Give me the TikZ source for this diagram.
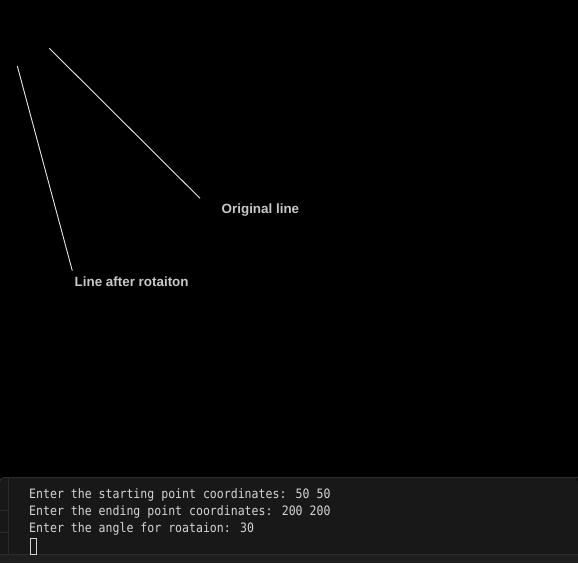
\documentclass[tikz,border=0pt]{standalone}
\usepackage{graphicx}
\usepackage{fontspec}
\setmainfont{Liberation Sans}
\newfontfamily\termfont{DejaVu Sans Mono}
\definecolor{termbg}{HTML}{181818}
\definecolor{termbelow}{HTML}{1F1F1F}
\definecolor{termedge}{HTML}{2B2B2B}
\definecolor{labelgray}{HTML}{C8C8C8}
\definecolor{termtext}{HTML}{D4D4D4}
\definecolor{linegray}{HTML}{E6E6E6}
\newcommand{\tallterm}[1]{\scalebox{1}[1.12]{#1}}
\tikzset{
  gline/.style={draw=linegray, line width=0.9pt},
  glabel/.style={anchor=base west, inner sep=0pt, text=labelgray, font=\fontsize{13.4}{15}\selectfont\bfseries},
  termline/.style={anchor=base west, inner sep=0pt, text=termtext, font=\termfont\fontsize{11.55}{14}\selectfont},
  edge/.style={draw=termedge, line width=1pt}
}
\begin{document}
\begin{tikzpicture}[x=1pt,y=-1pt]
\useasboundingbox (0,0) rectangle (578,563);
\fill[black] (0,0) rectangle (578,563);
% terminal panel
\fill[termbelow] (0,554) rectangle (578,563);
\fill[termbg, rounded corners=4pt] (0,554) -- (0,477.5) -- (578,477.5) [sharp corners] -- (578,554) -- cycle;
\draw[edge, rounded corners=4pt] (0,481) -- (0,477.5) -- (578,477.5);
\draw[edge] (0,554.3) -- (578,554.3);
\draw[edge] (8,478) -- (8,554);
\draw[edge] (0,510) -- (8,510);
\draw[edge] (0,532) -- (8,532);
% graphics lines
\coordinate (o1) at (49.3,48.3);
\coordinate (o2) at (200,198.3);
\coordinate (r1) at (17.3,66);
\coordinate (r2) at (72.3,270.7);
\draw[gline] (o1) -- (o2);
\draw[gline] (r1) -- (r2);
\node[glabel] (orig) at (221.5,213.3) {Original line};
\node[glabel] (rot) at (74.5,286.7) {Line after rotaiton};
% terminal text
\node[termline] (t1) at (29,498.5) {\tallterm{Enter the starting point coordinates: 50 50}};
\node[termline] (t2) at (29,515.5) {\tallterm{Enter the ending point coordinates: 200 200}};
\node[termline] (t3) at (29,532.5) {\tallterm{Enter the angle for roataion: 30}};
\node[draw=termtext, line width=1pt, minimum width=6pt, minimum height=16pt, inner sep=0pt, anchor=north west] (cur) at (29.5,537.5) {};
\end{tikzpicture}
\end{document}
